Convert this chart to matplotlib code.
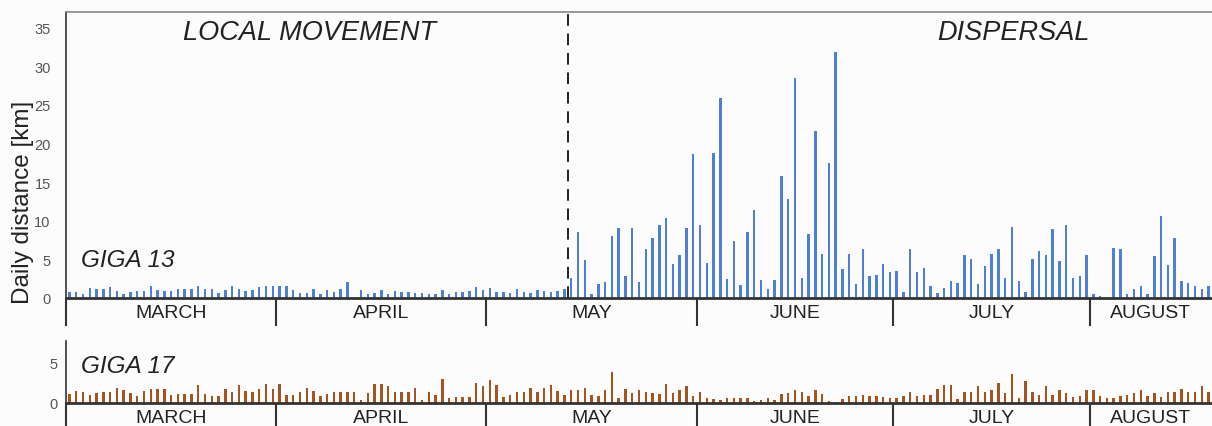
import matplotlib
matplotlib.use("Agg")
import matplotlib.pyplot as plt
import numpy as np

plt.rcParams['font.family'] = ['Liberation Sans', 'DejaVu Sans']

months = ["MARCH", "APRIL", "MAY", "JUNE", "JULY", "AUGUST"]

# GIGA 13 daily distance [km], per month (as drawn)
g13_mar = [0.8, 0.8, 0.5, 1.3, 1.1, 1.1, 1.4, 0.9, 0.5, 0.8, 0.9, 0.9, 1.6, 1.0, 0.9,
           0.9, 1.1, 1.1, 1.2, 1.5, 1.2, 1.2, 0.6, 1.0, 1.5, 1.2, 0.9, 1.0, 1.4, 1.6, 1.5]
g13_apr = [1.6, 1.6, 1.0, 0.7, 0.7, 1.1, 0.5, 1.0, 0.8, 1.2, 2.1, 0.1, 1.0, 0.5, 0.7,
           1.0, 0.5, 0.9, 0.8, 0.8, 0.7, 0.7, 0.5, 0.5, 1.0, 0.5, 0.8, 0.8, 0.9, 1.4, 1.0]
g13_may = [1.3, 0.8, 0.8, 0.65, 1.2, 0.8, 0.65, 1.0, 0.9, 0.8, 0.9, 1.1, 2.6, 8.5, 4.9,
           0.5, 1.8, 2.1, 8.0, 9.0, 2.8, 9.1, 2.1, 6.4, 7.8, 9.5, 10.3, 4.4, 5.5, 9.0, 18.6]
g13_jun = [9.4, 4.5, 18.8, 25.9, 2.5, 7.4, 1.7, 8.5, 11.4, 2.3, 1.1, 2.3, 15.8, 12.8, 28.4,
           2.6, 8.3, 21.6, 5.7, 17.5, 31.8, 3.8, 5.7, 1.8, 6.3, 2.9, 3.0, 4.4, 3.4]
g13_jul = [3.5, 0.8, 6.3, 3.4, 3.9, 1.6, 0.65, 1.25, 2.25, 2.0, 5.5, 5.1, 1.8, 4.1, 5.7,
           6.3, 2.55, 9.2, 2.25, 0.8, 5.0, 6.1, 5.5, 8.9, 4.8, 9.4, 2.6, 2.9, 5.6]
g13_aug = [0.55, 0.3, 0.05, 6.45, 6.3, 0.5, 1.1, 1.6, 0.5, 5.4, 10.6, 4.3, 7.7, 2.25, 2.0,
           1.5, 1.1, 1.55]

# GIGA 17 daily distance [km], per month (as drawn)
g17_mar = [1.1, 1.5, 1.4, 1.0, 1.2, 1.3, 1.3, 1.8, 1.6, 1.2, 0.9, 1.5, 1.7, 1.7, 1.7,
           1.0, 1.1, 1.1, 1.1, 2.2, 1.1, 0.8, 0.9, 1.7, 1.4, 2.2, 1.5, 1.4, 1.7, 2.3, 1.7]
g17_apr = [2.3, 1.0, 1.0, 1.3, 1.9, 1.5, 0.9, 1.1, 1.4, 1.3, 1.3, 1.3, 0.4, 1.2, 2.3,
           2.3, 2.1, 1.3, 1.3, 1.3, 1.9, 0.4, 1.3, 1.0, 2.9, 0.6, 0.7, 0.7, 0.7, 2.4, 2.1]
g17_may = [2.8, 2.2, 0.7, 1.0, 1.3, 1.3, 1.9, 1.3, 1.9, 2.2, 1.5, 1.0, 1.6, 1.6, 1.9,
           1.0, 0.9, 1.6, 3.8, 0.6, 1.7, 1.2, 1.6, 1.4, 1.2, 1.1, 2.3, 1.2, 1.6, 2.1, 0.8]
g17_jun = [1.4, 0.6, 0.5, 0.4, 0.6, 0.6, 0.6, 0.6, 0.3, 0.4, 0.6, 0.4, 1.1, 1.2, 1.6,
           1.3, 0.8, 1.6, 1.1, 0.3, 0.15, 0.5, 0.9, 0.9, 1.0, 0.8, 0.8, 0.7, 0.6]
g17_jul = [0.6, 0.9, 1.3, 0.8, 1.0, 1.0, 1.7, 2.2, 2.2, 0.5, 1.4, 1.4, 2.1, 1.4, 1.6,
           2.5, 1.2, 3.5, 0.6, 2.7, 1.4, 1.0, 2.1, 1.0, 1.6, 1.2, 0.7, 0.8, 1.6]
g17_aug = [1.6, 0.9, 0.6, 0.6, 0.8, 1.0, 1.2, 1.6, 0.8, 1.2, 0.7, 1.3, 1.4, 1.7, 1.4,
           1.4, 2.1, 1.4]

dispersal_start_index = 73.5  # between day 12 and 13 of May (bar index units)

g13_months = [g13_mar, g13_apr, g13_may, g13_jun, g13_jul, g13_aug]
g17_months = [g17_mar, g17_apr, g17_may, g17_jun, g17_jul, g17_aug]

g13 = np.concatenate(g13_months)
g17 = np.concatenate(g17_months)
counts = [len(m) for m in g13_months]
edges = np.concatenate([[0], np.cumsum(counts)]) - 0.5
centers = (edges[:-1] + edges[1:]) / 2
n = len(g13)

W, H = 1212, 427
fig = plt.figure(figsize=(W / 100, H / 100), dpi=100)
fig.patch.set_facecolor('#fcfcfc')

def px(x0, y_top, x1, y_bot):
    return [x0 / W, 1 - y_bot / H, (x1 - x0) / W, (y_bot - y_top) / H]

ax1 = fig.add_axes(px(66, 13, 1212, 299))
ax2 = fig.add_axes(px(66, 342, 1212, 404))

blue = '#4f7fd4'
brown = '#a5531f'
x = np.arange(n)
ax1.bar(x, g13, width=0.36, color=blue, linewidth=0)
ax2.bar(x, g17, width=0.36, color=brown, linewidth=0)

for ax in (ax1, ax2):
    ax.set_facecolor('#fcfcfc')
    ax.set_xlim(-0.5, n - 0.5)
    ax.spines['right'].set_visible(False)
    ax.spines['bottom'].set_linewidth(2.0)
    ax.spines['bottom'].set_color('#333333')
    ax.spines['left'].set_linewidth(1.2)
    ax.spines['left'].set_color('#333333')
    ax.set_xticks(edges[:-1])
    ax.set_xticklabels([])
    ax.set_xticks(centers, minor=True)
    ax.set_xticklabels(months, minor=True, fontsize=14, color='#222222')
    ax.tick_params(axis='x', which='major', length=20, width=1.5, color='#333333', direction='out')
    ax.tick_params(axis='x', which='minor', length=0, pad=4)
    ax.tick_params(axis='y', length=0, labelsize=10.5, labelcolor='#555555')

ax1.spines['top'].set_color('#888888')
ax1.spines['top'].set_linewidth(1.2)
ax2.spines['top'].set_visible(False)

ax1.set_ylim(0, 37)
ax1.set_yticks([0, 5, 10, 15, 20, 25, 30, 35])
ax1.tick_params(axis='y', pad=11)
ax2.set_ylim(0, 7.6)
ax2.set_yticks([0, 5])
ax2.tick_params(axis='y', pad=6)

ax1.axvline(dispersal_start_index, color='#222222', lw=1.4, ls=(0, (6, 4)))

fig.text(310 / W, 1 - 33 / H, 'LOCAL MOVEMENT', fontsize=19.5,
         style='italic', ha='center', va='center', color='#222222')
fig.text(1013 / W, 1 - 33 / H, 'DISPERSAL', fontsize=19.5,
         style='italic', ha='center', va='center', color='#222222')
fig.text(81 / W, 1 - 267 / H, 'GIGA 13', fontsize=17.5, style='italic', ha='left',
         va='baseline', color='#222222')
fig.text(81 / W, 1 - 373 / H, 'GIGA 17', fontsize=17.5, style='italic', ha='left',
         va='baseline', color='#222222')
fig.text(23 / W, 1 - 202 / H, 'Daily distance [km]', rotation=90, fontsize=17.5,
         ha='center', va='center', color='#222222')

fig.savefig('out.png', dpi=100, facecolor=fig.get_facecolor())
